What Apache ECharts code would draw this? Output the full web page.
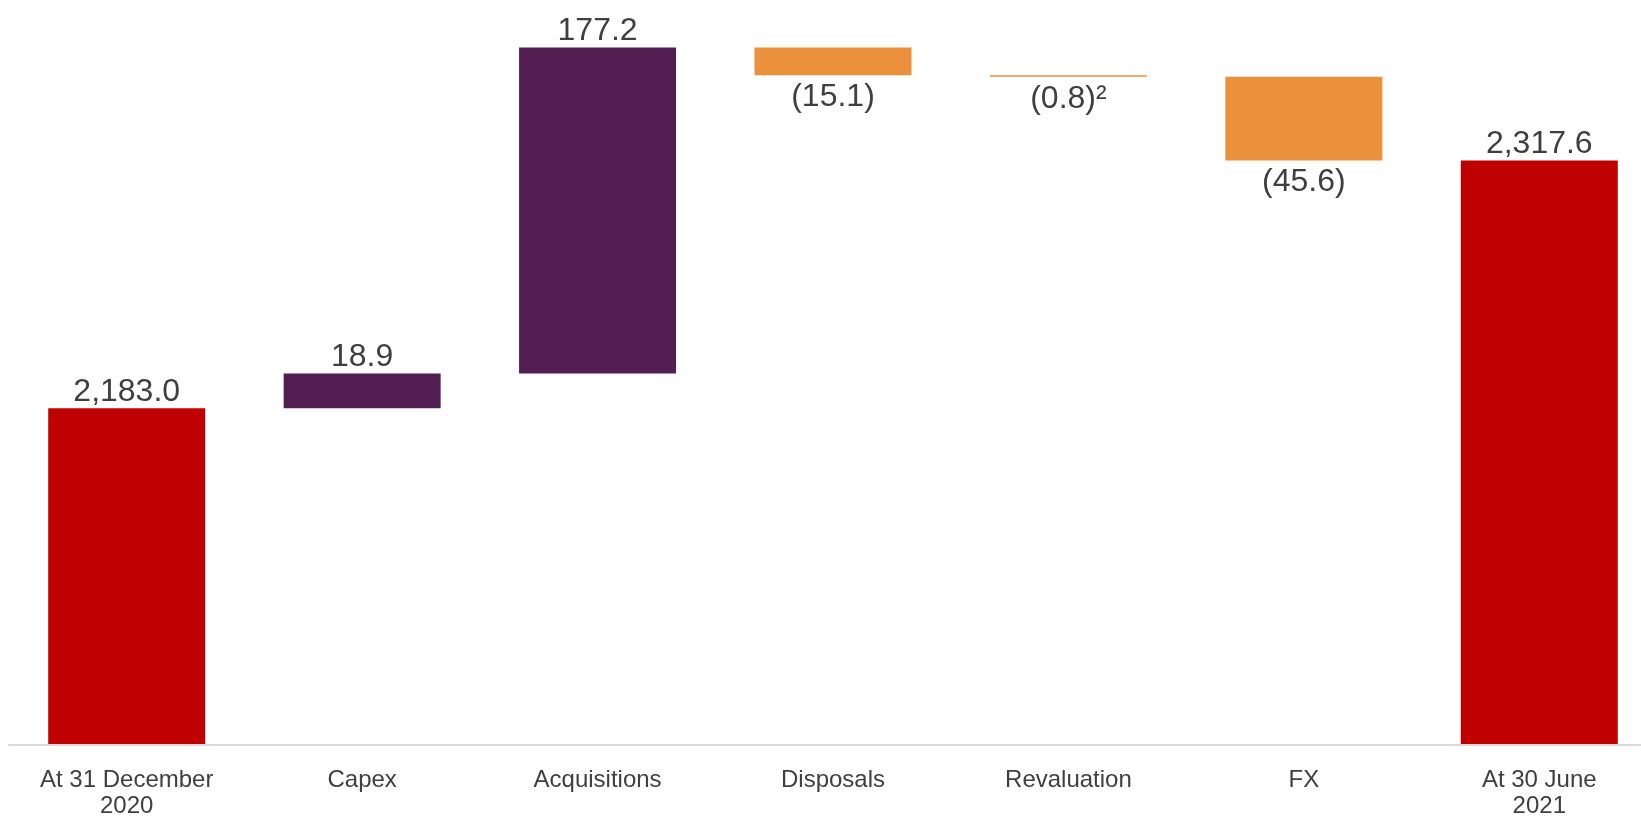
<!DOCTYPE html>
<html>
<head>
<meta charset="utf-8">
<script src="https://cdn.jsdelivr.net/npm/echarts@6/dist/echarts.min.js"></script>
<style>
  html, body { margin: 0; padding: 0; background: #fff; overflow: hidden; }
  #bridge { width: 1657px; height: 819px; }
</style>
</head>
<body>
<div id="bridge"></div>
<script>
const categories = ['At 31 December\n2020', 'Capex', 'Acquisitions', 'Disposals', 'Revaluation', 'FX', 'At 30 June\n2021']
const changes = [2183.0, 18.9, 177.2, -15.1, -0.8, -45.6, 2317.6]
const isTotal = [true, false, false, false, false, false, true]
const footnotes = ['', '', '', '', '²', '', '']

const RED = '#C00000'
const PURPLE = '#521E51'
const ORANGE = '#EB903B'
const TEXT = '#3F3F3F'

const chart = echarts.init(document.getElementById('bridge'), null, { width: 1657, height: 819 })

// build the floating bars from the running total
const helper = []
const visible = []
let running = 0
changes.forEach((v, i) => {
  if (isTotal[i]) {
    helper.push(0)
    visible.push(v)
    running = v
  } else {
    const start = running
    running = +(running + v).toFixed(1)
    helper.push(Math.min(start, running))
    visible.push(Math.abs(v))
  }
})

function fmt(v) {
  const s = Math.abs(v).toLocaleString('en-US', { minimumFractionDigits: 1, maximumFractionDigits: 1 })
  return v < 0 ? '(' + s + ')' : s
}

const barData = visible.map((h, i) => {
  const v = changes[i]
  let color = RED
  if (!isTotal[i]) color = v >= 0 ? PURPLE : ORANGE
  return {
    value: h,
    itemStyle: { color: color },
    label: {
      show: true,
      position: v < 0 ? 'bottom' : 'top',
      distance: v < 0 ? 6 : 0,
      formatter: fmt(v) + footnotes[i]
    }
  }
})

const option = {
  animation: false,
  grid: { left: 9, right: 0, top: 9, height: 741 },
  xAxis: {
    type: 'category',
    data: categories,
    axisLine: { show: true, lineStyle: { color: '#D9D9D9', width: 2 } },
    axisTick: { show: false },
    axisLabel: {
      color: TEXT,
      fontFamily: 'Liberation Sans, Arial, sans-serif',
      fontSize: 24,
      lineHeight: 26,
      margin: 22,
      interval: 0
    },
    z: 10
  },
  yAxis: {
    type: 'value',
    min: 2000,
    max: 2400,
    show: false
  },
  series: [
    {
      type: 'bar',
      stack: 'bridge',
      data: helper,
      barWidth: 157,
      itemStyle: { color: 'transparent' },
      silent: true
    },
    {
      type: 'bar',
      stack: 'bridge',
      data: barData,
      barWidth: 157,
      clip: true,
      label: {
        color: TEXT,
        fontFamily: 'Liberation Sans, Arial, sans-serif',
        fontSize: 32
      }
    }
  ]
}

chart.setOption(option)
</script>
</body>
</html>
